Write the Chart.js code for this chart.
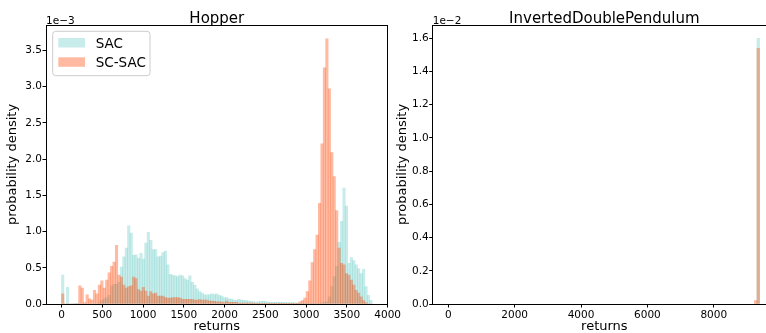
<!DOCTYPE html>
<html>
<head>
<meta charset="utf-8">
<script src="https://cdn.jsdelivr.net/npm/chart.js@4.4.1/dist/chart.umd.min.js"></script>
<style>
  html, body { margin: 0; padding: 0; background: #fff; overflow: hidden; width: 766px; height: 333px; }
  canvas { position: absolute; top: 0; }
  #hopper { left: 0; }
  #idp { left: 390px; }
</style>
</head>
<body>
<canvas id="hopper" width="402" height="333"></canvas>
<canvas id="idp" width="386" height="333"></canvas>
<script>
// Hopper histogram, density in units of 1e-3, bins of 30 starting at 0
const hopperBinStart = 0;
const hopperBinWidth = 30;
const hopperSac = [
  0.40, 0, 0.23, 0, 0, 0.01, 0.01, 0, 0, 0,
  0, 0, 0, 0, 0, 0.02, 0.05, 0.07, 0.09, 0.12,
  0.25, 0.27, 0.27, 0.30, 0.51, 0.65, 0.77, 1.08, 0.98, 0.67,
  0.68, 0.63, 0.70, 0.62, 0.84, 0.99, 0.88, 0.75, 0.75, 0.65,
  0.66, 0.71, 0.73, 0.54, 0.41, 0.40, 0.39, 0.38, 0.40, 0.39,
  0.35, 0.33, 0.39, 0.30, 0.26, 0.21, 0.17, 0.15, 0.125, 0.125,
  0.125, 0.14, 0.13, 0.14, 0.12, 0.11, 0.09, 0.087, 0.07, 0.065,
  0.055, 0.05, 0.065, 0.055, 0.05, 0.046, 0.04, 0.037, 0.03, 0.028,
  0.03, 0.037, 0.037, 0.035, 0.025, 0.023, 0.023, 0.023, 0.025, 0.023,
  0.022, 0.02, 0.02, 0.018, 0.018, 0.015, 0.014, 0.012, 0.01, 0.01,
  0.008, 0.008, 0.01, 0.01, 0.01, 0.01, 0.015, 0.02, 0.03, 0.10,
  0.24, 0.38, 0.52, 0.85, 1.14, 1.60, 1.35, 0.56, 0.64, 0.60,
  0.54, 0.49, 0.42, 0.48, 0.24, 0.12, 0.05
];
const hopperScSac = [
  0.14, 0, 0, 0, 0, 0, 0, 0.25, 0.22, 0.02,
  0.125, 0.07, 0.055, 0.19, 0.14, 0.26, 0.32, 0.22, 0.33, 0.43,
  0.52, 0.58, 0.81, 0.40, 0.37, 0.26, 0.22, 0.24, 0.25, 0.37,
  0.35, 0.20, 0.18, 0.23, 0.18, 0.11, 0.17, 0.14, 0.15, 0.11,
  0.11, 0.11, 0.09, 0.08, 0.08, 0.09, 0.09, 0.09, 0.08, 0.065,
  0.065, 0.065, 0.065, 0.065, 0.055, 0.055, 0.06, 0.055, 0.055, 0.055,
  0.04, 0.04, 0.037, 0.03, 0.03, 0.025, 0.02, 0.04, 0.023, 0.023,
  0.023, 0.023, 0.014, 0.014, 0.014, 0.014, 0.014, 0.014, 0.014, 0.01,
  0.01, 0.01, 0.01, 0.01, 0.01, 0.01, 0.01, 0.01, 0.01, 0.01,
  0.01, 0.01, 0.01, 0.01, 0.01, 0.01, 0.01, 0.03, 0.046, 0.08,
  0.17, 0.32, 0.57, 0.75, 0.95, 1.39, 2.21, 3.26, 3.66, 2.97,
  2.09, 1.76, 1.29, 0.77, 0.56, 0.54, 0.42, 0.40, 0.33, 0.26,
  0.19, 0.15, 0.10, 0.046, 0.02, 0, 0
];
const hopperXTicks = [0, 500, 1000, 1500, 2000, 2500, 3000, 3500, 4000];
const hopperYTicks = [0, 0.5, 1.0, 1.5, 2.0, 2.5, 3.0, 3.5];

// InvertedDoublePendulum, density in units of 1e-2
const idpBinStart = 9220;
const idpBinWidth = 80;
const idpSac = [0, 1.60];
const idpScSac = [0.02, 1.54];
const idpXTicks = [0, 2000, 4000, 6000, 8000];
const idpYTicks = [0, 0.2, 0.4, 0.6, 0.8, 1.0, 1.2, 1.4, 1.6];

const seriesLabels = ['SAC', 'SC-SAC'];
const sacColor = 'rgba(32, 178, 170, 0.25)';
const scSacColor = 'rgba(255, 69, 0, 0.37)';

const FONT = "'DejaVu Sans', sans-serif";
Chart.defaults.font.family = FONT;
Chart.defaults.color = '#000';

function toPoints(values, start, width) {
  return values.map((v, i) => ({ x: start + (i + 0.5) * width, y: v }));
}

// spines on top/right, title, offset text and legend box
const framePlugin = {
  id: 'frame',
  afterDraw(chart, args, opts) {
    const ctx = chart.ctx;
    const a = chart.chartArea;
    ctx.save();
    ctx.strokeStyle = '#000';
    ctx.lineWidth = 1;
    ctx.beginPath();
    const t = Math.round(a.top) + 0.5;
    const r = Math.round(a.right) - 0.5;
    ctx.moveTo(a.left, t);
    ctx.lineTo(a.right, t);
    ctx.moveTo(r, a.top);
    ctx.lineTo(r, a.bottom);
    ctx.stroke();

    ctx.fillStyle = '#000';
    ctx.textBaseline = 'alphabetic';
    ctx.font = '15px ' + FONT;
    ctx.textAlign = 'center';
    ctx.fillText(opts.title, (a.left + a.right) / 2, a.top - 2.5);
    ctx.font = '10.5px ' + FONT;
    ctx.textAlign = 'left';
    ctx.fillText(opts.offsetText, a.left, a.top - 1.5);

    if (opts.legend) {
      const x0 = a.left + 6.7, y0 = a.top + 6.3, w = 97.3, h = 44.4;
      ctx.beginPath();
      if (ctx.roundRect) ctx.roundRect(x0, y0, w, h, 3); else ctx.rect(x0, y0, w, h);
      ctx.fillStyle = 'rgba(255,255,255,0.8)';
      ctx.fill();
      ctx.strokeStyle = '#cccccc';
      ctx.stroke();
      ctx.font = '13.5px ' + FONT;
      chart.data.datasets.forEach((ds, i) => {
        const base = y0 + 16.7 + i * 19.3;
        ctx.fillStyle = ds.backgroundColor;
        ctx.fillRect(x0 + 5.6, base - 10, 26.7, 9.5);
        ctx.fillStyle = '#000';
        ctx.fillText(ds.label, x0 + 43, base);
      });
    }
    ctx.restore();
  }
};

function makeChart(id, cfg) {
  const ctx = document.getElementById(id);
  return new Chart(ctx, {
    type: 'bar',
    data: {
      datasets: [
        { label: seriesLabels[0], data: cfg.sac, backgroundColor: sacColor, order: 1 },
        { label: seriesLabels[1], data: cfg.scSac, backgroundColor: scSacColor, order: 0 }
      ]
    },
    options: {
      responsive: false,
      animation: false,
      devicePixelRatio: 1,
      events: [],
      layout: { padding: { top: 25, right: cfg.padRight, left: 0, bottom: 0 } },
      datasets: {
        bar: { grouped: false, barPercentage: 1, categoryPercentage: 1, borderWidth: 0 }
      },
      plugins: {
        legend: { display: false },
        tooltip: { enabled: false },
        frame: { title: cfg.title, offsetText: cfg.offsetText, legend: cfg.legend }
      },
      scales: {
        x: {
          type: 'linear',
          min: cfg.xMin,
          max: cfg.xMax,
          offset: false,
          afterFit(scale) { scale.height = 29; },
          afterBuildTicks(scale) { scale.ticks = cfg.xTicks.map(v => ({ value: v })); },
          grid: { offset: false, drawOnChartArea: false, tickLength: 3.5, color: '#000', tickColor: '#000' },
          border: { display: true, color: '#000', width: 1 },
          ticks: {
            autoSkip: false,
            maxRotation: 0,
            padding: 1,
            font: { size: 10.5 },
            color: '#000',
            callback: v => String(v)
          },
          title: { display: true, text: 'returns', font: { size: 13, lineHeight: 1 }, padding: { top: 0, bottom: 0 }, color: '#000' }
        },
        y: {
          min: 0,
          max: cfg.yMax,
          afterFit(scale) { scale.width = cfg.yWidth; },
          afterBuildTicks(scale) { scale.ticks = cfg.yTicks.map(v => ({ value: v })); },
          grid: { drawOnChartArea: false, tickLength: 3.5, color: '#000', tickColor: '#000' },
          border: { display: true, color: '#000', width: 1 },
          ticks: {
            padding: 0.5,
            font: { size: 10.5 },
            color: '#000',
            callback: v => v.toFixed(1)
          },
          title: { display: true, text: 'probability density', font: { size: 13, lineHeight: 1 }, padding: { top: 6, bottom: 0 }, color: '#000' }
        }
      }
    },
    plugins: [framePlugin]
  });
}

makeChart('hopper', {
  sac: toPoints(hopperSac, hopperBinStart, hopperBinWidth),
  scSac: toPoints(hopperScSac, hopperBinStart, hopperBinWidth),
  title: 'Hopper',
  offsetText: '1e\u22123',
  legend: true,
  xMin: -190, xMax: 4000, xTicks: hopperXTicks,
  yMax: 3.85, yTicks: hopperYTicks,
  yWidth: 46, padRight: 13.7
});

makeChart('idp', {
  sac: toPoints(idpSac, idpBinStart, idpBinWidth),
  scSac: toPoints(idpScSac, idpBinStart, idpBinWidth),
  title: 'InvertedDoublePendulum',
  offsetText: '1e\u22122',
  legend: false,
  xMin: -470, xMax: 9874, xTicks: idpXTicks,
  yMax: 1.68, yTicks: idpYTicks,
  yWidth: 42.7, padRight: 0
});
</script>
</body>
</html>
